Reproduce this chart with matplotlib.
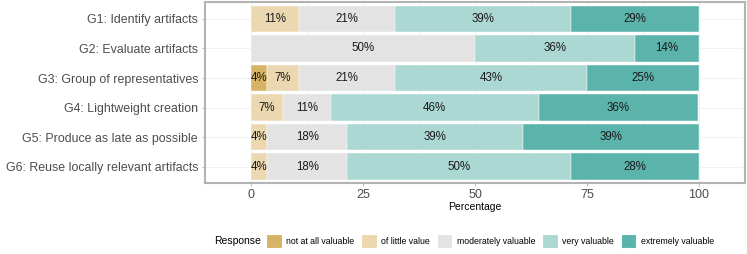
import matplotlib
matplotlib.use("Agg")
import matplotlib.pyplot as plt
import numpy as np
from matplotlib.patches import Patch

plt.rcParams["font.family"] = ["Liberation Sans", "DejaVu Sans"]

questions = [
    "G1: Identify artifacts",
    "G2: Evaluate artifacts",
    "G3: Group of representatives",
    "G4: Lightweight creation",
    "G5: Produce as late as possible",
    "G6: Reuse locally relevant artifacts",
]
responses = [
    "not at all valuable",
    "of little value",
    "moderately valuable",
    "very valuable",
    "extremely valuable",
]
colors = ["#d8b365", "#ebd8b0", "#e3e3e3", "#acd8d4", "#5ab4ac"]

# percentages per question, one column per response level
values = np.array([
    [0.0, 10.7, 21.4, 39.3, 28.6],
    [0.0, 0.0, 50.0, 35.7, 14.3],
    [3.6, 7.1, 21.4, 42.9, 25.0],
    [0.0, 7.1, 10.7, 46.4, 35.7],
    [0.0, 3.6, 17.9, 39.3, 39.3],
    [0.0, 3.6, 17.9, 50.0, 28.6],
])
labels = [
    ["", "11%", "21%", "39%", "29%"],
    ["", "", "50%", "36%", "14%"],
    ["4%", "7%", "21%", "43%", "25%"],
    ["", "7%", "11%", "46%", "36%"],
    ["", "4%", "18%", "39%", "39%"],
    ["", "4%", "18%", "50%", "28%"],
]

fig = plt.figure(figsize=(7.47, 2.54), dpi=100)
ax = fig.add_axes([0.2744, 0.2795, 0.9973 - 0.2744, 0.992 - 0.2795])

y = np.arange(len(questions))
left = np.zeros(len(questions))
for j, resp in enumerate(responses):
    ax.barh(y, values[:, j], left=left, height=0.9, color=colors[j],
            edgecolor="white", linewidth=0.3, zorder=2)
    for i in range(len(questions)):
        if labels[i][j]:
            ax.text(left[i] + values[i, j] / 2, y[i], labels[i][j],
                    ha="center", va="center", fontsize=8.3, color="#1a1a1a", zorder=3)
    left += values[:, j]

ax.set_xlim(-10.3, 110.3)
ax.set_ylim(len(questions) - 0.45, -0.57)
ax.set_yticks(y)
ax.set_yticklabels(questions, fontsize=8.9, color="#4d4d4d")
ax.set_xticks([0, 25, 50, 75, 100])
ax.set_xticks([12.5, 37.5, 62.5, 87.5], minor=True)
ax.tick_params(axis="x", labelsize=9, colors="#b3b3b3", length=2, width=0.6, pad=2)
ax.tick_params(axis="y", colors="#b3b3b3", length=2, width=0.6, pad=3)
for t in ax.get_yticklabels():
    t.set_color("#4d4d4d")
for t in ax.get_xticklabels():
    t.set_color("#4d4d4d")
ax.tick_params(axis="x", which="minor", length=0)
ax.grid(True, which="both", color="#ebebeb", linewidth=0.5, zorder=0)
ax.set_axisbelow(True)
for s in ax.spines.values():
    s.set_color("#b3b3b3")
    s.set_linewidth(1.5)
ax.set_xlabel("Percentage", fontsize=7.5, labelpad=1)

handles = [Patch(facecolor=c, edgecolor="white", linewidth=0.8) for c in colors]
fig.text(0.2865, 0.051, "Response", fontsize=7.5, va="center", ha="left")
fig.legend(handles, responses, loc="center left", bbox_to_anchor=(0.356, 0.051),
           ncol=5, frameon=False, fontsize=6.3, handlelength=1.8, handleheight=2.2,
           handletextpad=0.55, columnspacing=0.72, borderpad=0, borderaxespad=0)

fig.savefig("out.png", dpi=100)
